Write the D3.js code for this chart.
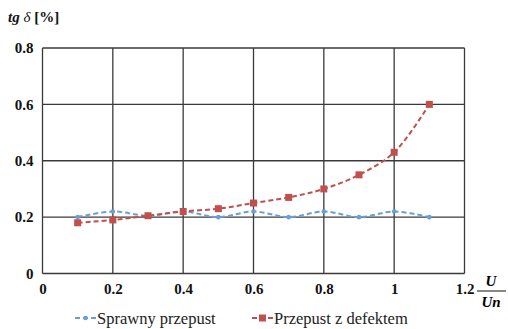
<!DOCTYPE html>
<html>
<head>
<meta charset="utf-8">
<script src="https://cdn.jsdelivr.net/npm/d3@7"></script>
<style>
body { margin: 0; background: #fff; }
svg text, svg tspan { font-family: 'Liberation Serif', serif !important; }
</style>
</head>
<body>
<svg class="chart" width="508" height="329" style="font-family:'Liberation Serif', serif"></svg>
<script>
// U/Un values
var xValues = [0.1, 0.2, 0.3, 0.4, 0.5, 0.6, 0.7, 0.8, 0.9, 1.0, 1.1];
// tg delta [%]
var sprawny = [0.20, 0.22, 0.205, 0.22, 0.20, 0.22, 0.20, 0.22, 0.20, 0.22, 0.20];
var defekt = [0.18, 0.19, 0.205, 0.22, 0.23, 0.25, 0.27, 0.30, 0.35, 0.43, 0.60];
var seriesNames = ["Sprawny przepust", "Przepust z defektem"];
var colors = ["#6a9fd6", "#c0504d"];
var xTicks = [0, 0.2, 0.4, 0.6, 0.8, 1, 1.2];
var yTicks = [0, 0.2, 0.4, 0.6, 0.8];

var serifFont = "'Liberation Serif', serif";

var margin = {top: 48, right: 43.5, bottom: 55.5, left: 42.5};
var width = 508 - margin.left - margin.right;
var height = 329 - margin.top - margin.bottom;

var x = d3.scaleLinear().domain([0, 1.2]).range([0, width]);
var y = d3.scaleLinear().domain([0, 0.8]).range([height, 0]);

var chart = d3.select('.chart');
var main = chart.append('g')
    .attr('transform', 'translate(' + margin.left + ',' + margin.top + ')');

// grid
main.selectAll('.vgrid')
    .data(xTicks)
    .enter().append('line')
    .attr('x1', function(d) { return x(d); })
    .attr('x2', function(d) { return x(d); })
    .attr('y1', 0).attr('y2', height)
    .style('stroke', '#3a3a3a').style('stroke-width', '1.3px');

main.selectAll('.hgrid')
    .data(yTicks)
    .enter().append('line')
    .attr('y1', function(d) { return y(d); })
    .attr('y2', function(d) { return y(d); })
    .attr('x1', 0).attr('x2', width)
    .style('stroke', '#3a3a3a').style('stroke-width', '1.3px');

// axes (labels only)
var xAxis = d3.axisBottom(x).tickValues(xTicks).tickSize(0).tickPadding(10)
    .tickFormat(function(d) { return d == 0 || d == 1 ? d3.format('d')(d) : d3.format('.1f')(d); });
var gx = main.append('g')
    .attr('transform', 'translate(0,' + height + ')')
    .call(xAxis)
    .attr('font-family', null);
gx.select('.domain').remove();
gx.selectAll('text')
    .style('font-family', serifFont)
    .style('font-size', '15px').style('font-weight', 'bold').style('fill', '#111');

var yAxis = d3.axisLeft(y).tickValues(yTicks).tickSize(0).tickPadding(9)
    .tickFormat(function(d) { return d == 0 ? '0' : d3.format('.1f')(d); });
var gy = main.append('g').call(yAxis).attr('font-family', null);
gy.select('.domain').remove();
gy.selectAll('text')
    .style('font-family', serifFont)
    .style('font-size', '15px').style('font-weight', 'bold').style('fill', '#111');

// series
var line = d3.line()
    .x(function(d) { return x(d[0]); })
    .y(function(d) { return y(d[1]); })
    .curve(d3.curveCatmullRom.alpha(0.5));

var allSeries = [sprawny, defekt];
allSeries.forEach(function(vals, s) {
    var pts = xValues.map(function(v, i) { return [v, vals[i]]; });
    main.append('path')
        .datum(pts)
        .attr('d', line)
        .style('fill', 'none')
        .style('stroke', colors[s])
        .style('stroke-width', '2px')
        .style('stroke-dasharray', '5,3');
    if (s == 0) {
        main.selectAll('.dot' + s)
            .data(pts)
            .enter().append('circle')
            .attr('cx', function(d) { return x(d[0]); })
            .attr('cy', function(d) { return y(d[1]); })
            .attr('r', 2.3)
            .style('fill', colors[s]);
    } else {
        main.selectAll('.dot' + s)
            .data(pts)
            .enter().append('rect')
            .attr('x', function(d) { return x(d[0]) - 3.5; })
            .attr('y', function(d) { return y(d[1]) - 3.5; })
            .attr('width', 7).attr('height', 7)
            .style('fill', colors[s]);
    }
});

// y title
var yt = chart.append('text').attr('x', 8).attr('y', 22)
    .style('font-family', serifFont).style('font-size', '15px').style('fill', '#111');
yt.append('tspan').style('font-style', 'italic').style('font-weight', 'bold').text('tg ');
yt.append('tspan').style('font-style', 'italic').text('δ');
yt.append('tspan').style('font-weight', 'bold').text(' [%]');

// x title U/Un
chart.append('text').attr('x', 491).attr('y', 286).attr('text-anchor', 'middle')
    .style('font-family', serifFont)
    .style('font-size', '15px').style('font-style', 'italic').style('font-weight', 'bold').text('U');
chart.append('line').attr('x1', 477).attr('x2', 506).attr('y1', 291).attr('y2', 291)
    .style('stroke', '#111').style('stroke-width', '1px');
chart.append('text').attr('x', 491).attr('y', 307).attr('text-anchor', 'middle')
    .style('font-family', serifFont)
    .style('font-size', '15px').style('font-style', 'italic').style('font-weight', 'bold').text('Un');

// legend
var legendX = [75, 252];
seriesNames.forEach(function(name, s) {
    var g = chart.append('g').attr('transform', 'translate(' + legendX[s] + ',318)');
    g.append('line').attr('x1', 0).attr('x2', 21).attr('y1', 0).attr('y2', 0)
        .style('stroke', colors[s]).style('stroke-width', '2px').style('stroke-dasharray', '5,3');
    if (s == 0) {
        g.append('circle').attr('cx', 10.5).attr('cy', 0).attr('r', 2.3).style('fill', colors[s]);
    } else {
        g.append('rect').attr('x', 7).attr('y', -3.5).attr('width', 7).attr('height', 7).style('fill', colors[s]);
    }
    g.append('text').attr('x', 22).attr('y', 5.5)
        .style('font-family', serifFont)
        .style('font-size', '16.5px').style('fill', '#222').text(name);
});
</script>
</body>
</html>
